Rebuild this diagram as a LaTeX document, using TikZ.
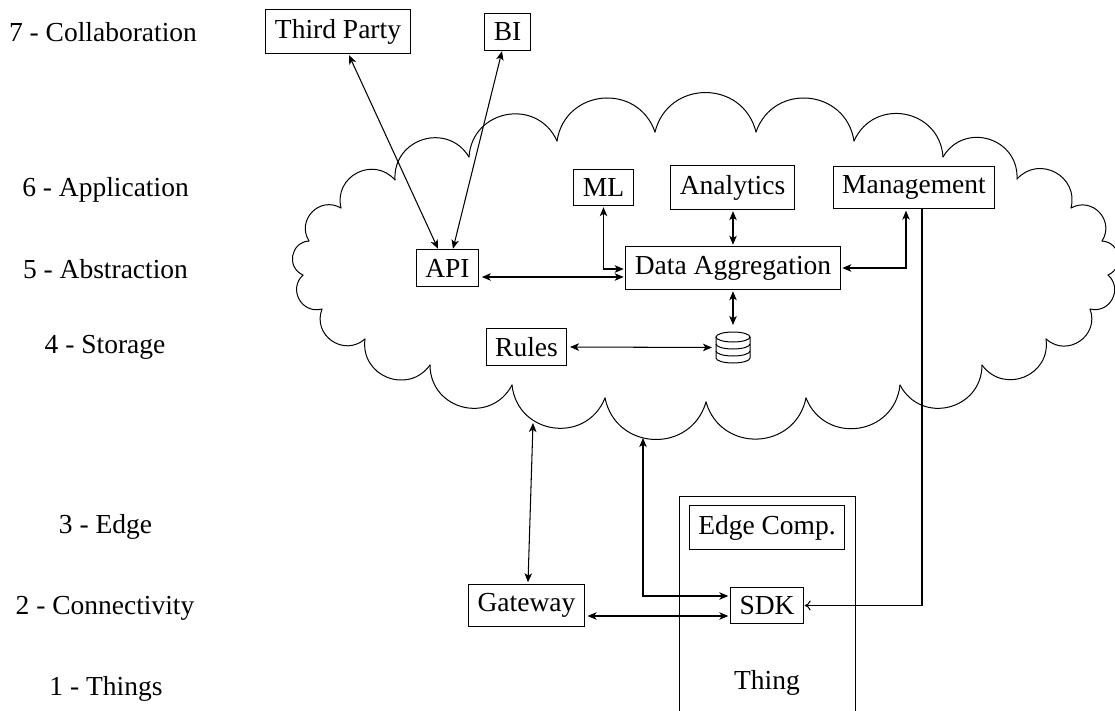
\documentclass[tikz,border=0pt]{standalone}
\usepackage{fontspec}
\setmainfont{Liberation Serif}
\usetikzlibrary{calc,arrows.meta}
\tikzset{
  x=1pt,y=1pt,
  every node/.style={font=\fontsize{27.5pt}{33pt}\selectfont},
  box/.style={draw,line width=1pt,inner sep=9.17pt,outer sep=0pt},
  lbl/.style={anchor=base,inner sep=0pt},
  cloudline/.style={line width=1pt},
  twoway/.style={line width=1.05pt,{Stealth[length=9pt,width=7.5pt,inset=2.4pt]}-{Stealth[length=9pt,width=7.5pt,inset=2.4pt]}},
  openend/.style={line width=1.05pt,-{Computer Modern Rightarrow[length=6pt,width=10pt]}},
  dbline/.style={line width=1pt}
}
\begin{document}
\begin{tikzpicture}
\useasboundingbox (0,0) rectangle (1115,-711);
\begin{scope}
\clip (0,0) rectangle (1115,-711);
% cloud
\foreach \ax/\ay/\bx/\by in {
 303/275/309/241, 309/241/341/208, 341/208/395/180, 395/180/469/157,
 469/157/557/141, 557/141/655/132, 655/132/756/132, 756/132/854/141,
 854/141/943/157, 943/157/1017/179, 1017/179/1071/208, 1071/208/1102/241,
 1102/241/1108/275, 1108/275/1090/309, 1090/309/1046/339, 1046/339/982/365,
 982/365/900/385, 900/385/806/398, 806/398/706/402, 706/402/605/398,
 605/398/512/385, 512/385/430/365, 430/365/365/339, 365/339/322/309, 322/309/303/275}{
  \pgfmathsetmacro\vx{0.537*(\bx-\ax)}
  \pgfmathsetmacro\vy{0.537*(\ay-\by)}
  \pgfmathsetmacro\ux{0.242*\vx-0.970*\vy}
  \pgfmathsetmacro\uy{0.970*\vx+0.242*\vy}
  \pgfmathsetmacro\wx{-0.242*\vx-0.970*\vy}
  \pgfmathsetmacro\wy{0.970*\vx-0.242*\vy}
  \draw[cloudline,line cap=round] (\ax,-\ay) .. controls (\ax+\ux,-\ay+\uy) and (\bx+\wx,-\by+\wy) .. (\bx,-\by);
}
% thing container, open at the bottom edge of the page
\node[box,minimum width=176pt,minimum height=234pt] (thing) at (767.5,-613.5) {};
\end{scope}

% level labels
\node[lbl] (l7) at (103,-42) {7 - Collaboration};
\node[lbl] (l6) at (105.5,-197) {6 - Application};
\node[lbl] (l5) at (105.5,-278) {5 - Abstraction};
\node[lbl] (l4) at (105,-353) {4 - Storage};
\node[lbl] (l3) at (105.5,-533) {3 - Edge};
\node[lbl] (l2) at (105,-614) {2 - Connectivity};
\node[lbl] (l1) at (106,-695) {1 - Things};

% boxes
\node[box] (third) at (338,-31.5) {Third Party};
\node[box] (bi) at (507.5,-32) {BI};
\node[box] (ml) at (603.5,-187.5) {ML};
\node[box] (analytics) at (732.5,-187.5) {Analytics};
\node[box] (mgmt) at (914,-187.5) {Management};
\node[box] (data) at (733,-268) {Data Aggregation};
\node[box] (api) at (447.5,-268) {API};
\node[box] (rules) at (526.5,-347) {Rules};
\node[box] (gateway) at (526.5,-605.5) {Gateway};
\node[box] (sdk) at (767,-605.5) {SDK};
\node[box] (edge) at (767,-527.5) {Edge Comp.};
\node[lbl] (thinglbl) at (767,-689) {Thing};

% database symbol
\node[inner sep=0pt,outer sep=0pt,minimum width=34pt,minimum height=31pt] (db) at (733,-347.5) {};
\draw[dbline] (db.center) ++(0,10.5) ellipse (17pt and 5pt);
\draw[dbline] ($(db.center)+(-17,10.5)$) -- ++(0,-21) arc (180:360:17pt and 5pt) -- ++(0,21);
\draw[dbline] ($(db.center)+(-17,3.5)$) arc (180:360:17pt and 5pt);
\draw[dbline] ($(db.center)+(-17,-3.5)$) arc (180:360:17pt and 5pt);

% free ends on the cloud
\coordinate (cloudG) at (533,-423);
\coordinate (cloudS) at (643,-438);

% connectors
\draw[twoway] ($(third.south)+(11,-2)$) -- ($(api.north)+(-9.5,1)$);
\draw[twoway] ($(bi.south)+(-5.5,-1)$) -- ($(api.north)+(5.5,1)$);
\draw[twoway] ($(api.east)+(3,-9)$) -- ($(data.west)+(-2,-9)$);
\draw[twoway] ($(ml.south)+(0,-1.5)$) |- ($(data.west)+(-2,-1)$);
\draw[twoway] ($(analytics.south)+(0.5,-2)$) -- ($(data.north)+(0,2)$);
\draw[twoway] ($(data.east)+(2,0)$) -| ($(mgmt.south)+(-8,-2)$);
\draw[twoway] ($(data.south)+(0,-2)$) -- ($(db.north)+(0,7)$);
\draw[twoway] ($(rules.east)+(3,0)$) -- ($(db.west)+(-4,0)$);
\draw[twoway] (cloudG) -- ($(gateway.north)+(1.5,2)$);
\draw[twoway] (cloudS) |- ($(sdk.west)+(-2,9.5)$);
\draw[twoway] ($(gateway.east)+(3,-10.5)$) -- ($(sdk.west)+(-2,-10.5)$);
\draw[openend] ($(mgmt.south)+(8,0)$) |- ($(sdk.east)+(1,0)$);
\end{tikzpicture}
\end{document}
